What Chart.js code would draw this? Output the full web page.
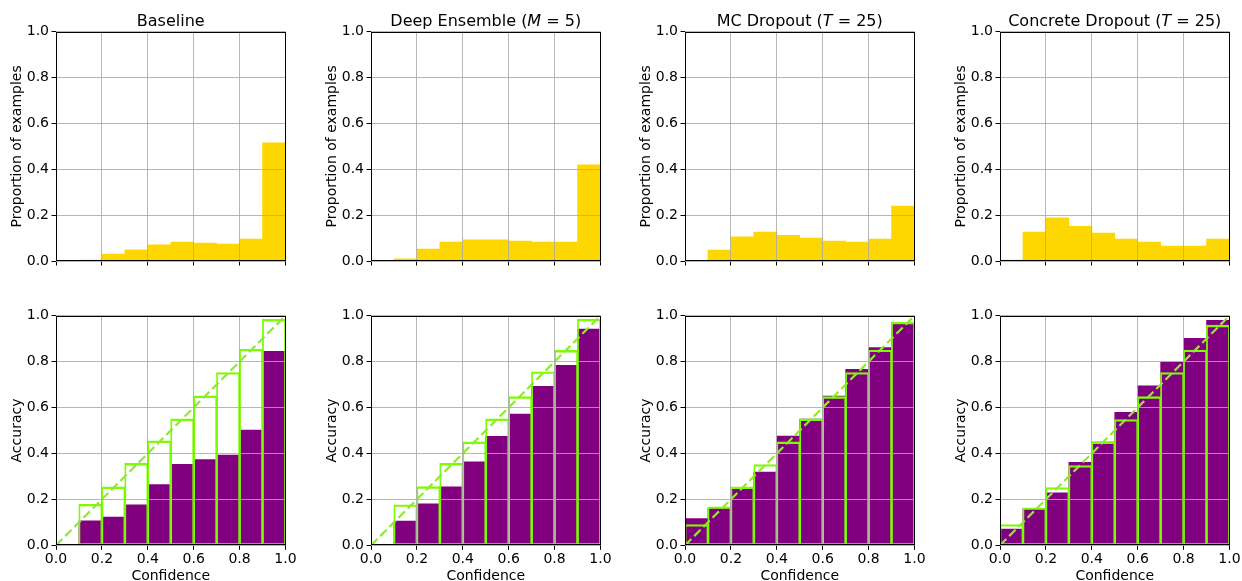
<!DOCTYPE html>
<html>
<head>
<meta charset="utf-8">
<script src="https://cdn.jsdelivr.net/npm/chart.js@4.4.0/dist/chart.umd.min.js"></script>
<style>
  body { margin: 0; width: 1242px; height: 581px; overflow: hidden; background: #fff; position: relative; }
  canvas { position: absolute; }
</style>
</head>
<body>
<script>
// bins of the confidence histogram
var binCenters = [0.05, 0.15, 0.25, 0.35, 0.45, 0.55, 0.65, 0.75, 0.85, 0.95];
var axisTicks = [0.0, 0.2, 0.4, 0.6, 0.8, 1.0];
var diagX = [0, 1];
var diagY = [0, 1];

// proportion of examples per bin (top row)
var baselineProp = [0.000, 0.004, 0.030, 0.049, 0.070, 0.083, 0.078, 0.074, 0.096, 0.515];
var ensembleProp = [0.000, 0.009, 0.052, 0.083, 0.092, 0.092, 0.087, 0.083, 0.083, 0.419];
var mcProp       = [0.000, 0.048, 0.105, 0.126, 0.112, 0.100, 0.087, 0.083, 0.096, 0.240];
var concreteProp = [0.004, 0.126, 0.188, 0.151, 0.122, 0.096, 0.083, 0.065, 0.065, 0.096];

// accuracy per bin (purple) and mean confidence per bin (green outline)
var baselineAcc  = [0.000, 0.107, 0.123, 0.176, 0.264, 0.353, 0.373, 0.393, 0.502, 0.845];
var baselineConf = [0.000, 0.178, 0.254, 0.356, 0.454, 0.550, 0.650, 0.752, 0.853, 0.983];
var ensembleAcc  = [0.000, 0.105, 0.181, 0.255, 0.364, 0.475, 0.572, 0.692, 0.784, 0.942];
var ensembleConf = [0.000, 0.176, 0.255, 0.356, 0.450, 0.550, 0.647, 0.755, 0.848, 0.984];
var mcAcc        = [0.116, 0.160, 0.244, 0.319, 0.476, 0.550, 0.650, 0.766, 0.861, 0.971];
var mcConf       = [0.090, 0.167, 0.254, 0.351, 0.450, 0.550, 0.647, 0.752, 0.850, 0.971];
var concreteAcc  = [0.071, 0.160, 0.228, 0.361, 0.450, 0.579, 0.695, 0.798, 0.901, 0.980];
var concreteConf = [0.090, 0.163, 0.251, 0.347, 0.450, 0.547, 0.647, 0.752, 0.850, 0.958];

var panels = [
  {title: [["Baseline", false]], prop: baselineProp, acc: baselineAcc, conf: baselineConf},
  {title: [["Deep Ensemble (", false], ["M", true], [" = 5)", false]], prop: ensembleProp, acc: ensembleAcc, conf: ensembleConf},
  {title: [["MC Dropout (", false], ["T", true], [" = 25)", false]], prop: mcProp, acc: mcAcc, conf: mcConf},
  {title: [["Concrete Dropout (", false], ["T", true], [" = 25)", false]], prop: concreteProp, acc: concreteAcc, conf: concreteConf}
];

var colLeft = [56, 371, 685, 1000];
var gridColor = 'rgba(170,170,170,0.85)';

Chart.defaults.font.family = 'DejaVu Sans';
Chart.defaults.font.size = 14;
Chart.defaults.color = '#000';

function pts(xs, ys) {
  return xs.map(function (x, i) { return {x: x, y: ys[i]}; });
}

// title with italic pieces, like matplotlib mathtext
var titlePlugin = {
  id: 'panelTitle',
  afterDraw: function (chart, args, opts) {
    if (!opts.parts) return;
    var ctx = chart.ctx, a = chart.chartArea;
    ctx.save();
    var total = 0;
    opts.parts.forEach(function (p) {
      ctx.font = (p[1] ? 'oblique ' : '') + '16px "DejaVu Sans"';
      total += ctx.measureText(p[0]).width;
    });
    var x = (a.left + a.right) / 2 - total / 2;
    ctx.fillStyle = '#000';
    ctx.textBaseline = 'alphabetic';
    opts.parts.forEach(function (p) {
      ctx.font = (p[1] ? 'oblique ' : '') + '16px "DejaVu Sans"';
      ctx.fillText(p[0], x, a.top - 6);
      x += ctx.measureText(p[0]).width;
    });
    ctx.restore();
  }
};

// full box around the axes
var framePlugin = {
  id: 'frame',
  afterDraw: function (chart) {
    var a = chart.chartArea, ctx = chart.ctx;
    ctx.save();
    ctx.strokeStyle = '#000';
    ctx.lineWidth = 1;
    var l = Math.round(a.left) + 0.5, r = Math.round(a.right) - 0.5;
    var t = Math.round(a.top) + 0.5, b = Math.round(a.bottom) - 0.5;
    ctx.strokeRect(l, t, r - l, b - t);
    ctx.restore();
  }
};

function axes(xTitle, yTitle, xHeight, showX) {
  return {
    x: {
      type: 'linear', min: 0, max: 1, offset: false,
      afterBuildTicks: function (s) { s.ticks = axisTicks.map(function (v) { return {value: v}; }); },
      afterFit: function (s) { s.height = xHeight; },
      grid: {offset: false, color: gridColor, lineWidth: 1, z: 1, tickLength: 4.5, tickColor: '#000', tickWidth: 1},
      border: {display: false},
      ticks: {
        padding: 1, maxRotation: 0, autoSkip: false,
        callback: function (v) { return showX ? v.toFixed(1) : ''; }
      },
      title: {display: !!xTitle, text: xTitle, padding: {top: 0, bottom: 5.6}}
    },
    y: {
      type: 'linear', min: 0, max: 1,
      afterBuildTicks: function (s) { s.ticks = axisTicks.map(function (v) { return {value: v}; }); },
      afterFit: function (s) { s.width = 56; },
      grid: {color: gridColor, lineWidth: 1, z: 1, tickLength: 4.5, tickColor: '#000', tickWidth: 1},
      border: {display: false},
      ticks: {padding: 2.5, callback: function (v) { return v.toFixed(1); }},
      title: {display: true, text: yTitle, padding: {top: 8.6, bottom: 0}}
    }
  };
}

function makeCanvas(left, top, w, h) {
  var c = document.createElement('canvas');
  c.width = w; c.height = h;
  c.style.left = left + 'px'; c.style.top = top + 'px';
  c.style.width = w + 'px'; c.style.height = h + 'px';
  document.body.appendChild(c);
  return c.getContext('2d');
}

panels.forEach(function (p, i) {
  var left = colLeft[i] - 56;

  // top row: proportion of examples
  new Chart(makeCanvas(left, 0, 300, 290), {
    type: 'bar',
    data: {
      datasets: [{
        data: pts(binCenters, p.prop),
        backgroundColor: '#FFD700',
        barPercentage: 1, categoryPercentage: 1
      }]
    },
    options: {
      responsive: false, animation: false, events: [],
      layout: {padding: {top: 31.7, right: 14.5, left: 0, bottom: 0}},
      scales: axes('', 'Proportion of examples', 29, false),
      plugins: {legend: {display: false}, tooltip: {enabled: false}, panelTitle: {parts: p.title}}
    },
    plugins: [titlePlugin, framePlugin]
  });

  // bottom row: reliability diagram
  new Chart(makeCanvas(left, 290, 300, 300), {
    type: 'bar',
    data: {
      datasets: [{
        data: pts(binCenters, p.acc),
        backgroundColor: '#800080',
        barPercentage: 1, categoryPercentage: 1,
        order: 3
      }, {
        data: pts(binCenters, p.conf),
        backgroundColor: 'rgba(0,0,0,0)',
        borderColor: '#7CFC00',
        borderWidth: {top: 1.4, left: 0.8, right: 0.8, bottom: 1},
        borderSkipped: false,
        inflateAmount: 0.5,
        barPercentage: 1, categoryPercentage: 1,
        order: 2
      }, {
        type: 'line',
        data: pts(diagX, diagY),
        borderColor: '#90e830',
        borderWidth: 2.2,
        borderDash: [9, 4],
        pointRadius: 0,
        order: 1
      }]
    },
    options: {
      responsive: false, animation: false, events: [],
      datasets: {bar: {grouped: false}},
      layout: {padding: {top: 25.7, right: 14.5, left: 0, bottom: 0}},
      scales: axes('Confidence', 'Accuracy', 44.7, true),
      plugins: {legend: {display: false}, tooltip: {enabled: false}}
    },
    plugins: [framePlugin]
  });
});
</script>
</body>
</html>
